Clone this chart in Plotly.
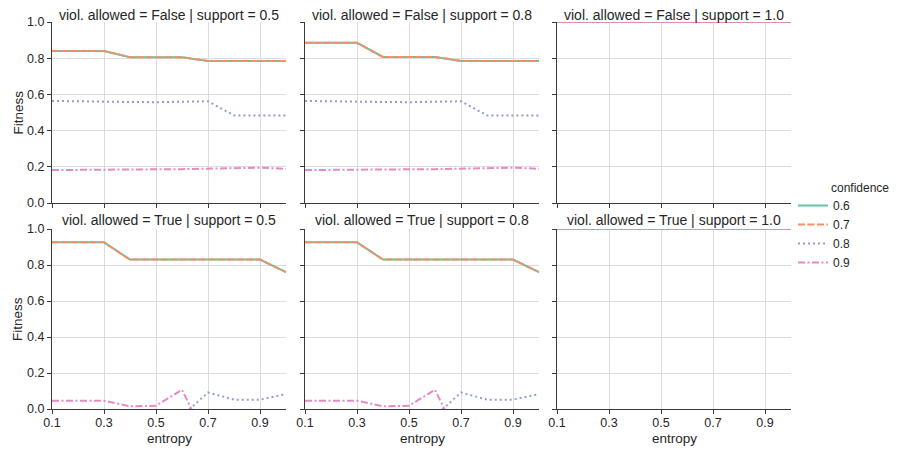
import plotly.graph_objects as go

entropy = [0.1, 0.2, 0.3, 0.4, 0.5, 0.6, 0.7, 0.8, 0.9, 1.0]
confidences = ["0.6", "0.7", "0.8", "0.9"]

# viol. allowed = False
f05_c06 = [0.84, 0.84, 0.84, 0.805, 0.805, 0.805, 0.785, 0.785, 0.785, 0.785]
f05_c07 = [0.84, 0.84, 0.84, 0.805, 0.805, 0.805, 0.785, 0.785, 0.785, 0.785]
f05_c08 = [0.564, 0.561, 0.558, 0.558, 0.557, 0.558, 0.562, 0.484, 0.484, 0.484]
f05_c09 = [0.182, 0.184, 0.186, 0.186, 0.186, 0.187, 0.191, 0.195, 0.195, 0.189]

f08_c06 = [0.885, 0.885, 0.885, 0.807, 0.807, 0.807, 0.785, 0.785, 0.785, 0.785]
f08_c07 = [0.885, 0.885, 0.885, 0.807, 0.807, 0.807, 0.785, 0.785, 0.785, 0.785]
f08_c08 = [0.564, 0.561, 0.558, 0.558, 0.557, 0.558, 0.562, 0.484, 0.484, 0.484]
f08_c09 = [0.182, 0.184, 0.186, 0.186, 0.186, 0.187, 0.191, 0.195, 0.195, 0.189]

f10_c06 = [1.0] * 10
f10_c07 = [1.0] * 10
f10_c08 = [1.0] * 10
f10_c09 = [1.0] * 10

# viol. allowed = True
t05_c06 = [0.926, 0.926, 0.926, 0.83, 0.83, 0.83, 0.83, 0.83, 0.83, 0.76]
t05_c07 = [0.926, 0.926, 0.926, 0.83, 0.83, 0.83, 0.83, 0.83, 0.83, 0.76]
t05_c08 = [-0.05, -0.05, -0.05, -0.05, -0.05, -0.04, 0.092, 0.052, 0.052, 0.083]
t05_c09 = [0.046, 0.046, 0.046, 0.015, 0.018, 0.107, -0.19, -0.2, -0.2, -0.2]

t08_c06 = [0.926, 0.926, 0.926, 0.83, 0.83, 0.83, 0.83, 0.83, 0.83, 0.76]
t08_c07 = [0.926, 0.926, 0.926, 0.83, 0.83, 0.83, 0.83, 0.83, 0.83, 0.76]
t08_c08 = [-0.05, -0.05, -0.05, -0.05, -0.05, -0.04, 0.092, 0.052, 0.052, 0.083]
t08_c09 = [0.046, 0.046, 0.046, 0.015, 0.018, 0.107, -0.19, -0.2, -0.2, -0.2]

t10_c06 = [1.0] * 10
t10_c07 = [1.0] * 10
t10_c08 = [1.0] * 10
t10_c09 = [1.0] * 10

panels = [
    ("viol. allowed = False | support = 0.5", [f05_c06, f05_c07, f05_c08, f05_c09]),
    ("viol. allowed = False | support = 0.8", [f08_c06, f08_c07, f08_c08, f08_c09]),
    ("viol. allowed = False | support = 1.0", [f10_c06, f10_c07, f10_c08, f10_c09]),
    ("viol. allowed = True | support = 0.5", [t05_c06, t05_c07, t05_c08, t05_c09]),
    ("viol. allowed = True | support = 0.8", [t08_c06, t08_c07, t08_c08, t08_c09]),
    ("viol. allowed = True | support = 1.0", [t10_c06, t10_c07, t10_c08, t10_c09]),
]

colors = ["#66c2a5", "#fc8d62", "#8da0cb", "#e78ac3"]
dashes = ["solid", "7px,2.5px", "2px,3px", "7px,2.5px,2px,2.5px"]

W, H = 898, 450
# the page shows the figure offset by 8px; positions below are given in screen pixels
O = 8
def sx(px):
    return (px - O) / W
def sy(py):
    return 1 - (py - O) / H

xdoms = [(sx(52), sx(286)), (sx(305), sx(539)), (sx(557), sx(791))]
ydoms = [(sy(203), sy(22)), (sy(409), sy(229))]
title_y = [sy(15), sy(220)]

FONT = "Liberation Sans, Arial, sans-serif"
TXT = "#262626"
AX = "#3a3a3a"
GRID = "#dcdcdc"

fig = go.Figure()
layout = {}
annotations = []
for i, (title, series) in enumerate(panels):
    r, c = divmod(i, 3)
    n = i + 1
    xa = "x" if n == 1 else f"x{n}"
    ya = "y" if n == 1 else f"y{n}"
    for k, vals in enumerate(series):
        fig.add_trace(go.Scatter(
            x=entropy, y=vals, mode="lines", xaxis=xa, yaxis=ya,
            name=confidences[k], showlegend=(i == 0),
            line=dict(color=colors[k], width=2, dash=dashes[k]),
        ))
    xkey = "xaxis" if n == 1 else f"xaxis{n}"
    ykey = "yaxis" if n == 1 else f"yaxis{n}"
    layout[xkey] = dict(
        domain=list(xdoms[c]), anchor=ya, range=[0.1, 1.0], automargin=False,
        tickvals=[0.1, 0.3, 0.5, 0.7, 0.9], ticktext=["0.1", "0.3", "0.5", "0.7", "0.9"],
        showticklabels=(r == 1), showgrid=True, gridcolor=GRID, gridwidth=1,
        zeroline=False, showline=True, linecolor=AX, linewidth=1.3,
        ticks="outside", ticklen=4, tickcolor=AX, tickwidth=1.2,
        ticklabelstandoff=-2,
        tickfont=dict(size=12.5, color=TXT, family=FONT),
    )
    layout[ykey] = dict(
        domain=list(ydoms[r]), anchor=xa, range=[0, 1.0], automargin=False,
        tickvals=[0, 0.2, 0.4, 0.6, 0.8, 1.0], ticktext=["0.0", "0.2", "0.4", "0.6", "0.8", "1.0"],
        showticklabels=(c == 0), showgrid=True, gridcolor=GRID, gridwidth=1,
        zeroline=False, showline=True, linecolor=AX, linewidth=1.3,
        ticks="outside", ticklen=4, tickcolor=AX, tickwidth=1.2,
        tickfont=dict(size=12.5, color=TXT, family=FONT),
    )
    annotations.append(dict(
        text=title, xref="paper", yref="paper",
        x=(xdoms[c][0] + xdoms[c][1]) / 2, y=title_y[r], xanchor="center", yanchor="middle",
        showarrow=False, font=dict(size=14, color=TXT, family=FONT),
    ))
    if r == 1:
        annotations.append(dict(
            text="entropy", xref="paper", yref="paper",
            x=(xdoms[c][0] + xdoms[c][1]) / 2, y=sy(438), xanchor="center", yanchor="middle",
            showarrow=False, font=dict(size=13.5, color=TXT, family=FONT),
        ))
    if c == 0:
        annotations.append(dict(
            text="Fitness", xref="paper", yref="paper", textangle=-90,
            x=sx(18), y=(ydoms[r][0] + ydoms[r][1]) / 2, xanchor="center", yanchor="middle",
            showarrow=False, font=dict(size=13.5, color=TXT, family=FONT),
        ))

annotations.append(dict(
    text="confidence", xref="paper", yref="paper",
    x=sx(829), y=sy(188), xanchor="left", yanchor="middle",
    showarrow=False, font=dict(size=12, color=TXT, family=FONT),
))

fig.update_layout(
    width=W, height=H, margin=dict(l=0, r=0, t=0, b=0, autoexpand=False),
    paper_bgcolor="white", plot_bgcolor="white",
    font=dict(family=FONT, color=TXT),
    annotations=annotations,
    legend=dict(
        font=dict(size=12, color=TXT, family=FONT),
        x=sx(793), y=sy(191), xanchor="left", yanchor="top",
        itemwidth=30, tracegroupgap=0, bgcolor="rgba(0,0,0,0)",
    ),
    **layout,
)

fig.write_html("out.html")
